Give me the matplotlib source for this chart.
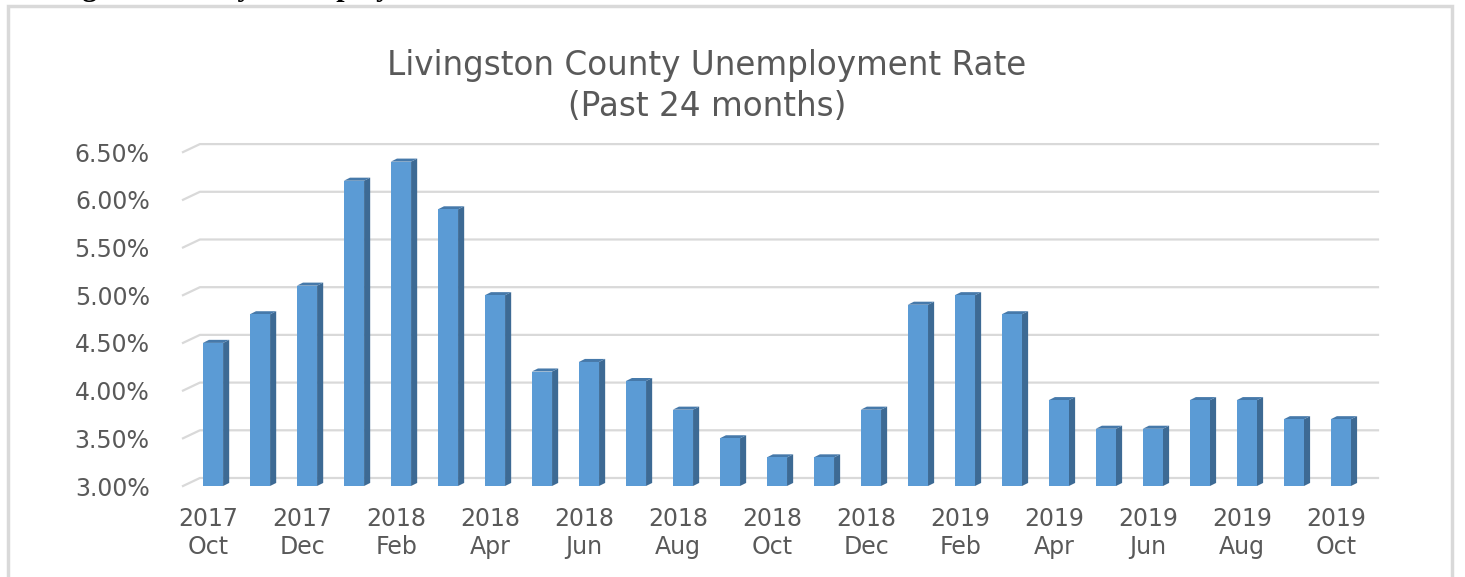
import matplotlib
matplotlib.use('Agg')
import matplotlib.pyplot as plt
from matplotlib.patches import Polygon, Rectangle

# Monthly unemployment rate, Oct 2017 .. Oct 2019 (percent)
months = ['Oct', 'Nov', 'Dec', 'Jan', 'Feb', 'Mar', 'Apr', 'May', 'Jun', 'Jul', 'Aug', 'Sep',
          'Oct', 'Nov', 'Dec', 'Jan', 'Feb', 'Mar', 'Apr', 'May', 'Jun', 'Jul', 'Aug', 'Sep', 'Oct']
years = [2017, 2017, 2017, 2018, 2018, 2018, 2018, 2018, 2018, 2018, 2018, 2018,
         2018, 2018, 2018, 2019, 2019, 2019, 2019, 2019, 2019, 2019, 2019, 2019, 2019]
rates = [4.5, 4.8, 5.1, 6.2, 6.4, 5.9, 5.0, 4.2, 4.3, 4.1, 3.8, 3.5,
         3.3, 3.3, 3.8, 4.9, 5.0, 4.8, 3.9, 3.6, 3.6, 3.9, 3.9, 3.7, 3.7]
y_ticks = [3.0, 3.5, 4.0, 4.5, 5.0, 5.5, 6.0, 6.5]

W, H = 1465, 577
fig = plt.figure(figsize=(W / 100, H / 100), dpi=100)
fig.patch.set_facecolor('white')

# caption line above the chart box, cut off by the top edge as in the source
fig.text(14 / W, 1.0 + 4 / H, 'Livingston County Unemployment Rate',
         family='Liberation Serif', fontweight='bold', fontsize=21.5,
         color='black', ha='left', va='baseline')

# chart box border
fig.patches.append(Rectangle((8 / W, -0.05), (1452 - 8) / W, 0.05 + (577 - 6) / H,
                             transform=fig.transFigure, fill=False,
                             edgecolor='#D9D9D9', linewidth=2.5))

ax = fig.add_axes([183 / W, (577 - 486) / H, 1195 / W, 3.6 * 95.4 / H])
x0, x1 = -0.638, 24.79
ax.set_xlim(x0, x1)
ax.set_ylim(3.0, 6.6)
for s in ax.spines.values():
    s.set_visible(False)

# 3D-ish gridlines: short slanted piece at the left, then back wall line
gdx, gdy = 0.36, 0.084
for v in y_ticks:
    ax.plot([x0, x0 + gdx, x1], [v, v + gdy, v + gdy], color='#D9D9D9',
            linewidth=1.6, zorder=1, clip_on=False)

# columns: front face, right side, top face
bw = 0.43
ddx, ddy = 0.13, 0.032
base = 3.0
for i, r in enumerate(rates):
    l, rt = i - bw / 2, i + bw / 2
    ax.add_patch(Polygon([(rt, base), (rt + ddx, base + ddy), (rt + ddx, r + ddy), (rt, r)],
                         closed=True, facecolor='#3D6A94', edgecolor='none', zorder=3))
    ax.add_patch(Polygon([(l, r), (l + ddx, r + ddy), (rt + ddx, r + ddy), (rt, r)],
                         closed=True, facecolor='#4679AA', edgecolor='none', zorder=3))
ax.bar(range(len(rates)), [r - base for r in rates], bottom=base, width=bw,
       color='#5B9BD5', edgecolor='none', zorder=4)

label_font = dict(family='DejaVu Sans', fontsize=17, color='#595959')
ax.set_yticks(y_ticks)
ax.set_yticklabels([f'{v:.2f}%' for v in y_ticks], **label_font)
ticks = list(range(0, len(rates), 2))
ax.set_xticks([t - 0.1 for t in ticks])
ax.set_xticklabels([f'{years[t]}\n{months[t]}' for t in ticks], linespacing=1.22, **label_font)
ax.tick_params(axis='both', length=0)
ax.tick_params(axis='y', pad=24)
ax.tick_params(axis='x', pad=15)

fig.text(707 / W, 1 - 86 / H, 'Livingston County Unemployment Rate\n(Past 24 months)',
         family='DejaVu Sans', fontsize=23.5, color='#595959', ha='center', va='center',
         linespacing=1.32)

fig.savefig('out.png', dpi=100)
